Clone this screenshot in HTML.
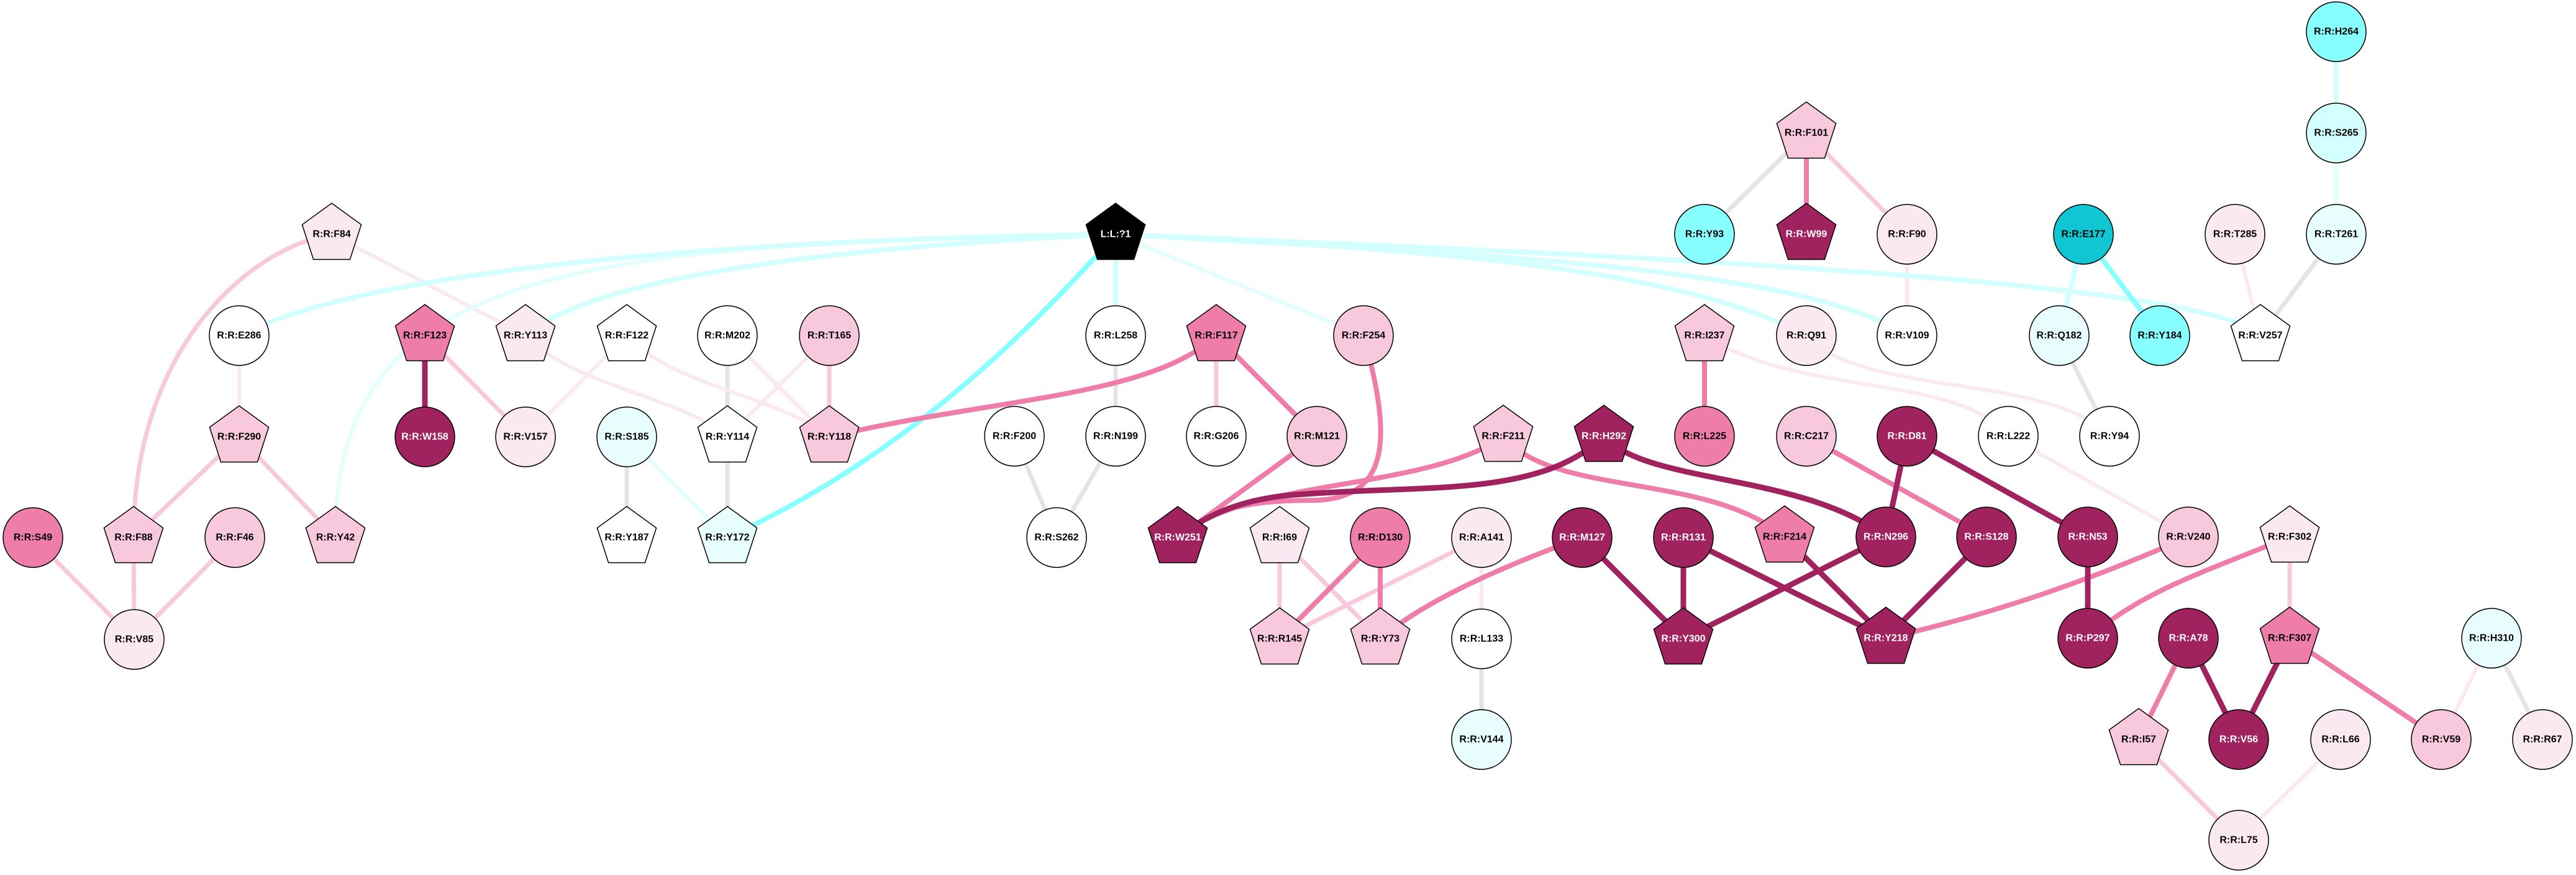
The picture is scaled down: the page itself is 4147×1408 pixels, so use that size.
<!DOCTYPE html>
<html><head><meta charset="utf-8"><style>
html,body{margin:0;padding:0;background:#fff;width:4147px;height:1408px;overflow:hidden}
svg{display:block}
text{font-family:"Liberation Sans",Arial,sans-serif;font-size:16px;font-weight:bold;text-anchor:middle;dominant-baseline:central}
</style></head><body>
<svg width="4147" height="1408" viewBox="0 0 4147 1408" xmlns="http://www.w3.org/2000/svg">
<defs>
<polygon id="pg" points="0,-50 47.6,-15.5 29.4,40.5 -29.4,40.5 -47.6,-15.5" stroke="#000" stroke-width="1.5"/>
</defs>
<g fill="none" stroke-linecap="round">
<g stroke="#E4E4E4" stroke-width="7">
<line x1="1171" y1="540" x2="1171" y2="703"/><line x1="1171" y1="703" x2="1171" y2="865"/>
<line x1="1009" y1="703" x2="1009" y2="865"/>
<line x1="1796" y1="540" x2="1796" y2="702"/><line x1="1633" y1="702" x2="1701" y2="865"/><line x1="1796" y1="702" x2="1701" y2="865"/>
<line x1="2385" y1="1028" x2="2385" y2="1190"/>
<line x1="2908" y1="214" x2="2744" y2="377"/><line x1="3315" y1="540" x2="3396" y2="702"/>
<line x1="3761" y1="377" x2="3639" y2="540"/><line x1="4011" y1="1027" x2="4093" y2="1190"/>
</g>
<g stroke="#FBE9F1" stroke-width="6">
<line x1="534" y1="377" x2="846" y2="540"/>
<path d="M846 540 C920 620,1100 640,1171 703"/>
<path d="M1009 540 C1080 620,1260 640,1335 703"/>
<line x1="1009" y1="540" x2="846" y2="703"/>
<line x1="1171" y1="540" x2="1335" y2="703"/>
<line x1="1335" y1="540" x2="1171" y2="703"/>
<line x1="385" y1="540" x2="385" y2="703"/>
<line x1="2385" y1="865" x2="2385" y2="1028"/>
<path d="M2744 540 C2900 640,3150 600,3233 702"/>
<path d="M2908 540 C3000 640,3300 600,3396 702"/>
<line x1="3233" y1="702" x2="3523" y2="864"/>
<line x1="3070" y1="377" x2="3070" y2="540"/>
<line x1="3598" y1="377" x2="3639" y2="540"/>
<line x1="4011" y1="1027" x2="3930" y2="1190"/>
<line x1="3768" y1="1190" x2="3604" y2="1352"/>
</g>
<g stroke="#F8C8DC" stroke-width="7">
<path d="M534 377 C400 400,215 560,215 865"/>
<line x1="385" y1="703" x2="215" y2="865"/><line x1="385" y1="703" x2="540" y2="865"/>
<line x1="215" y1="865" x2="216" y2="1029"/><line x1="53" y1="865" x2="216" y2="1029"/><line x1="378" y1="865" x2="216" y2="1029"/>
<line x1="684" y1="540" x2="846" y2="703"/>
<line x1="1335" y1="540" x2="1335" y2="703"/>
<line x1="1958" y1="540" x2="1958" y2="702"/>
<line x1="2060" y1="865" x2="2060" y2="1028"/><line x1="2060" y1="865" x2="2222" y2="1028"/>
<line x1="2385" y1="865" x2="2060" y2="1028"/>
<line x1="2908" y1="214" x2="3070" y2="377"/>
<line x1="3686" y1="864" x2="3686" y2="1027"/>
<line x1="3443" y1="1190" x2="3604" y2="1352"/>
</g>
<g stroke="#E4FEFE" stroke-width="7">
<path d="M1796 377 C900 390,540 440,540 865"/>
<line x1="1796" y1="377" x2="2195" y2="540"/>
<line x1="1009" y1="703" x2="1171" y2="865"/>
<line x1="3761" y1="214" x2="3761" y2="377"/>
</g>
<g stroke="#D4FFFF" stroke-width="8">
<path d="M1796 377 C1200 385,600 430,385 540"/>
<path d="M1796 377 C1300 400,950 450,846 540"/>
<line x1="1796" y1="377" x2="1796" y2="540"/>
<path d="M1796 377 C2300 400,2700 430,2908 540"/>
<path d="M1796 377 C2400 410,2900 430,3070 540"/>
<path d="M1796 377 C2600 410,3550 450,3639 540"/>
<line x1="3354" y1="377" x2="3315" y2="540"/>
<line x1="3761" y1="51" x2="3761" y2="214"/>
</g>
<g stroke="#88FFFF" stroke-width="8">
<path d="M1796 377 C1600 600,1400 760,1171 865"/>
<line x1="3354" y1="377" x2="3477" y2="540"/>
</g>
<g stroke="#EF7DAA" stroke-width="8">
<path d="M1958 540 C1850 640,1600 640,1335 703"/>
<line x1="1958" y1="540" x2="2120" y2="702"/>
<line x1="2120" y1="702" x2="1896" y2="865"/>
<path d="M2195 540 C2240 700,2240 800,2120 805 C2000 805,1950 820,1896 865"/>
<path d="M2420 702 C2300 790,2000 770,1896 865"/>
<path d="M2420 702 C2500 800,2750 760,2873 864"/>
<line x1="2222" y1="865" x2="2060" y2="1028"/><line x1="2222" y1="865" x2="2222" y2="1028"/>
<path d="M2547 865 C2450 900,2300 960,2222 1028"/>
<line x1="2744" y1="540" x2="2744" y2="702"/>
<line x1="2908" y1="702" x2="3198" y2="864"/>
<path d="M3523 864 C3350 940,3200 990,3036 1027"/>
<path d="M3686 864 C3550 920,3450 950,3361 1027"/>
<line x1="2908" y1="214" x2="2908" y2="377"/>
<line x1="3523" y1="1027" x2="3443" y2="1190"/>
<line x1="3686" y1="1027" x2="3930" y2="1190"/>
</g>
<g stroke="#A0225E" stroke-width="9">
<line x1="684" y1="540" x2="684" y2="703"/>
<path d="M2582 702 C2480 800,2300 780,2100 795 C2000 800,1940 830,1896 865"/>
<path d="M2582 702 C2650 780,2900 760,3036 864"/>
<line x1="2547" y1="865" x2="2710" y2="1028"/><line x1="2710" y1="865" x2="2710" y2="1028"/>
<line x1="2710" y1="865" x2="3036" y2="1027"/><line x1="3036" y1="864" x2="2710" y2="1028"/>
<line x1="2873" y1="864" x2="3036" y2="1027"/><line x1="3198" y1="864" x2="3036" y2="1027"/>
<line x1="3070" y1="702" x2="3036" y2="864"/><line x1="3070" y1="702" x2="3361" y2="864"/>
<line x1="3361" y1="864" x2="3361" y2="1027"/>
<line x1="3523" y1="1027" x2="3604" y2="1190"/><line x1="3686" y1="1027" x2="3604" y2="1190"/>
</g>
</g>
<g stroke="#000" stroke-width="1.5">
<g fill="#FBE9F1"><use href="#pg" x="534" y="377"/><use href="#pg" x="846" y="540"/><use href="#pg" x="2060" y="865"/><use href="#pg" x="3686" y="864"/>
<circle cx="846" cy="703" r="48"/><circle cx="216" cy="1029" r="48"/><circle cx="2385" cy="865" r="48"/><circle cx="3070" cy="377" r="48"/><circle cx="3598" cy="377" r="48"/><circle cx="2908" cy="540" r="48"/><circle cx="3768" cy="1190" r="48"/><circle cx="4093" cy="1190" r="48"/><circle cx="3604" cy="1352" r="48"/></g>
<g fill="#fff"><use href="#pg" x="1009" y="540"/><use href="#pg" x="1171" y="703"/><use href="#pg" x="1009" y="865"/><use href="#pg" x="3639" y="540"/>
<circle cx="385" cy="540" r="48"/><circle cx="1171" cy="540" r="48"/><circle cx="1796" cy="540" r="48"/><circle cx="1633" cy="702" r="48"/><circle cx="1796" cy="702" r="48"/><circle cx="1958" cy="702" r="48"/><circle cx="1701" cy="865" r="48"/><circle cx="2385" cy="1028" r="48"/><circle cx="3070" cy="540" r="48"/><circle cx="3233" cy="702" r="48"/><circle cx="3396" cy="702" r="48"/></g>
<g fill="#F8C8DC"><use href="#pg" x="385" y="703"/><use href="#pg" x="1335" y="703"/><use href="#pg" x="215" y="865"/><use href="#pg" x="540" y="865"/><use href="#pg" x="2420" y="702"/><use href="#pg" x="2060" y="1028"/><use href="#pg" x="2222" y="1028"/><use href="#pg" x="2908" y="214"/><use href="#pg" x="2744" y="540"/><use href="#pg" x="3443" y="1190"/>
<circle cx="1335" cy="540" r="48"/><circle cx="378" cy="865" r="48"/><circle cx="2195" cy="540" r="48"/><circle cx="2120" cy="702" r="48"/><circle cx="2908" cy="702" r="48"/><circle cx="3523" cy="864" r="48"/><circle cx="3930" cy="1190" r="48"/></g>
<g fill="#EF7DAA"><use href="#pg" x="684" y="540"/><use href="#pg" x="1958" y="540"/><use href="#pg" x="2873" y="864"/><use href="#pg" x="3686" y="1027"/>
<circle cx="53" cy="865" r="48"/><circle cx="2222" cy="865" r="48"/><circle cx="2744" cy="702" r="48"/></g>
<g fill="#A0225E"><use href="#pg" x="2582" y="702"/><use href="#pg" x="1896" y="865"/><use href="#pg" x="2710" y="1028"/><use href="#pg" x="2908" y="377"/><use href="#pg" x="3036" y="1027"/>
<circle cx="684" cy="703" r="48"/><circle cx="2547" cy="865" r="48"/><circle cx="2710" cy="865" r="48"/><circle cx="3070" cy="702" r="48"/><circle cx="3036" cy="864" r="48"/><circle cx="3198" cy="864" r="48"/><circle cx="3361" cy="864" r="48"/><circle cx="3361" cy="1027" r="48"/><circle cx="3523" cy="1027" r="48"/><circle cx="3604" cy="1190" r="48"/></g>
<g fill="#E8FEFE"><use href="#pg" x="1171" y="865"/>
<circle cx="1009" cy="703" r="48"/><circle cx="2385" cy="1190" r="48"/><circle cx="3761" cy="377" r="48"/><circle cx="3315" cy="540" r="48"/><circle cx="4011" cy="1027" r="48"/></g>
<g fill="#D4FFFF"><circle cx="3761" cy="214" r="48"/></g>
<g fill="#88FFFF"><circle cx="3761" cy="51" r="48"/><circle cx="2744" cy="377" r="48"/><circle cx="3477" cy="540" r="48"/></g>
<circle cx="3354" cy="377" r="48" fill="#10C6D2"/>
<use href="#pg" x="1796" y="377" fill="#000"/>
</g>
<g fill="#000">
<text x="534" y="377">R:R:F84</text><text x="385" y="540">R:R:E286</text><text x="846" y="540">R:R:Y113</text><text x="1009" y="540">R:R:F122</text><text x="1171" y="540">R:R:M202</text><text x="1335" y="540">R:R:T165</text>
<text x="385" y="703">R:R:F290</text><text x="846" y="703">R:R:V157</text><text x="1009" y="703">R:R:S185</text><text x="1171" y="703">R:R:Y114</text><text x="1335" y="703">R:R:Y118</text>
<text x="53" y="865">R:R:S49</text><text x="215" y="865">R:R:F88</text><text x="378" y="865">R:R:F46</text><text x="540" y="865">R:R:Y42</text><text x="1009" y="865">R:R:Y187</text><text x="1171" y="865">R:R:Y172</text><text x="216" y="1029">R:R:V85</text>
<text x="684" y="540">R:R:F123</text>
<text x="1796" y="540">R:R:L258</text><text x="1958" y="540">R:R:F117</text><text x="2195" y="540">R:R:F254</text>
<text x="1633" y="702">R:R:F200</text><text x="1796" y="702">R:R:N199</text><text x="1958" y="702">R:R:G206</text><text x="2120" y="702">R:R:M121</text><text x="2420" y="702">R:R:F211</text>
<text x="1701" y="865">R:R:S262</text><text x="2060" y="865">R:R:I69</text><text x="2222" y="865">R:R:D130</text><text x="2385" y="865">R:R:A141</text>
<text x="2060" y="1028">R:R:R145</text><text x="2222" y="1028">R:R:Y73</text><text x="2385" y="1028">R:R:L133</text><text x="2385" y="1190">R:R:V144</text>
<text x="3761" y="51">R:R:H264</text><text x="3761" y="214">R:R:S265</text><text x="2908" y="214">R:R:F101</text>
<text x="2744" y="377">R:R:Y93</text><text x="3070" y="377">R:R:F90</text><text x="3354" y="377">R:R:E177</text><text x="3598" y="377">R:R:T285</text><text x="3761" y="377">R:R:T261</text>
<text x="2744" y="540">R:R:I237</text><text x="2908" y="540">R:R:Q91</text><text x="3070" y="540">R:R:V109</text><text x="3315" y="540">R:R:Q182</text><text x="3477" y="540">R:R:Y184</text><text x="3639" y="540">R:R:V257</text>
<text x="2744" y="702">R:R:L225</text><text x="2908" y="702">R:R:C217</text><text x="3233" y="702">R:R:L222</text><text x="3396" y="702">R:R:Y94</text>
<text x="2873" y="864">R:R:F214</text><text x="3523" y="864">R:R:V240</text><text x="3686" y="864">R:R:F302</text>
<text x="3686" y="1027">R:R:F307</text><text x="4011" y="1027">R:R:H310</text>
<text x="3443" y="1190">R:R:I57</text><text x="3768" y="1190">R:R:L66</text><text x="3930" y="1190">R:R:V59</text><text x="4093" y="1190">R:R:R67</text><text x="3604" y="1352">R:R:L75</text>
</g>
<g fill="#fff">
<text x="1796" y="377">L:L:?1</text><text x="684" y="703">R:R:W158</text>
<text x="2582" y="702">R:R:H292</text><text x="1896" y="865">R:R:W251</text><text x="2547" y="865">R:R:M127</text><text x="2710" y="865">R:R:R131</text><text x="2710" y="1028">R:R:Y300</text>
<text x="2908" y="377">R:R:W99</text><text x="3070" y="702">R:R:D81</text>
<text x="3036" y="864">R:R:N296</text><text x="3198" y="864">R:R:S128</text><text x="3361" y="864">R:R:N53</text>
<text x="3036" y="1027">R:R:Y218</text><text x="3361" y="1027">R:R:P297</text><text x="3523" y="1027">R:R:A78</text><text x="3604" y="1190">R:R:V56</text>
</g>
</svg>
</body></html>
